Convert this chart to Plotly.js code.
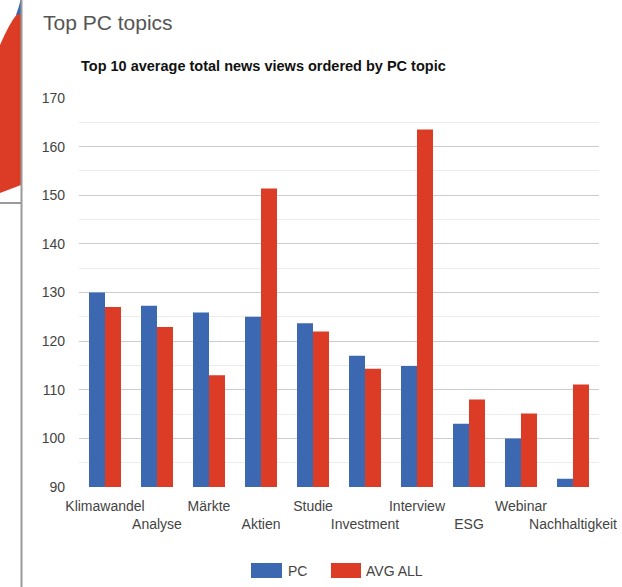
<!DOCTYPE html>
<html>
<head>
<meta charset="utf-8">
<script src="https://cdn.plot.ly/plotly-3.0.1.min.js"></script>
<style>
  html, body { margin: 0; padding: 0; background: #fff; }
  #wrap { position: relative; width: 622px; height: 587px; overflow: hidden; }
  #chart { position: absolute; left: 0; top: 0; width: 622px; height: 587px; }
  #deco { position: absolute; left: 0; top: 0; pointer-events: none; }
</style>
</head>
<body>
<div id="wrap">
  <div id="chart"></div>
  <svg id="deco" width="622" height="587">
    <path d="M0,45 Q9,24 17,14 L21,12 L21,185 L0,193 Z" fill="#dc3b26"/>
    <path d="M16,15 Q19,7 20.5,0 L21,0 L21,14 Z" fill="#3c67b1"/>
    <line x1="21.5" y1="0" x2="21.5" y2="587" stroke="#9a9a9a" stroke-width="2"/>
    <line x1="0" y1="203" x2="21" y2="203" stroke="#9a9a9a" stroke-width="2"/>
  </svg>
</div>
<script>
const categories = ["Klimawandel", "Analyse", "Märkte", "Aktien", "Studie", "Investment", "Interview", "ESG", "Webinar", "Nachhaltigkeit"];
const pcValues = [130.0, 127.3, 125.9, 125.0, 123.7, 117.0, 114.9, 103.0, 100.0, 91.7];
const avgAllValues = [127.0, 122.9, 113.0, 151.4, 122.0, 114.3, 163.5, 108.0, 105.1, 111.1];
const seriesNames = ["PC", "AVG ALL"];
const yTicks = [90, 100, 110, 120, 130, 140, 150, 160, 170];

const blue = "#3c67b1";
const red = "#dc3b26";

// staggered category labels (odd ones on second row)
const tickText = categories.map((c, i) => (i % 2 === 1 ? "<br>" + c : c));

const traces = [
  { type: "bar", name: seriesNames[0], x: categories, y: pcValues, marker: { color: blue }, showlegend: false, hoverinfo: "x+y" },
  { type: "bar", name: seriesNames[1], x: categories, y: avgAllValues, marker: { color: red }, showlegend: false, hoverinfo: "x+y" }
];

const L = 79, R = 599, T = 98, B = 487;
const px = v => (v - L) / (R - L);
const py = v => (B - v) / (B - T);

const layout = {
  width: 622, height: 587,
  margin: { l: L, r: 622 - R, t: T, b: 587 - B, pad: 0 },
  paper_bgcolor: "rgba(0,0,0,0)",
  plot_bgcolor: "rgba(0,0,0,0)",
  font: { family: "Liberation Sans, Arial, sans-serif", color: "#444" },
  title: {
    text: "Top PC topics",
    x: 43 / 622, xanchor: "left", xref: "container",
    y: 1 - 22.5 / 587, yanchor: "middle", yref: "container",
    font: { size: 21, color: "#555", family: "Liberation Sans, Arial, sans-serif" }
  },
  barmode: "group",
  bargap: 0.385,
  bargroupgap: 0,
  xaxis: {
    type: "category",
    tickmode: "array",
    tickvals: categories,
    ticktext: tickText,
    tickangle: 0,
    automargin: false,
    tickfont: { size: 14, color: "#444" },
    showgrid: false,
    showline: false,
    ticks: "",
    ticklabelstandoff: 9,
    fixedrange: true
  },
  yaxis: {
    range: [90, 170],
    tickmode: "array",
    tickvals: yTicks,
    ticktext: yTicks.map(String),
    automargin: false,
    tickfont: { size: 14, color: "#444" },
    showgrid: true,
    gridcolor: "#cccccc",
    gridwidth: 1,
    zeroline: false,
    showline: false,
    ticks: "",
    ticklabelstandoff: 13,
    minor: { dtick: 5, tick0: 90, showgrid: true, gridcolor: "#ececec", gridwidth: 1, ticks: "" },
    fixedrange: true
  },
  shapes: [
    { type: "rect", xref: "paper", yref: "paper", x0: px(251), x1: px(282), y0: py(563), y1: py(578), fillcolor: blue, line: { width: 0 } },
    { type: "rect", xref: "paper", yref: "paper", x0: px(331), x1: px(361), y0: py(563), y1: py(578), fillcolor: red, line: { width: 0 } }
  ],
  annotations: [
    { text: "<b>Top 10 average total news views ordered by PC topic</b>", xref: "paper", yref: "paper", x: px(79), y: py(66), xanchor: "left", yanchor: "middle", showarrow: false, font: { size: 14.5, color: "#111" } },
    { text: seriesNames[0], xref: "paper", yref: "paper", x: px(286), y: py(570.5), xanchor: "left", yanchor: "middle", showarrow: false, font: { size: 14, color: "#444" } },
    { text: seriesNames[1], xref: "paper", yref: "paper", x: px(364), y: py(570.5), xanchor: "left", yanchor: "middle", showarrow: false, font: { size: 14, color: "#444" } }
  ]
};

Plotly.newPlot("chart", traces, layout, { displayModeBar: false, staticPlot: true });
</script>
</body>
</html>
